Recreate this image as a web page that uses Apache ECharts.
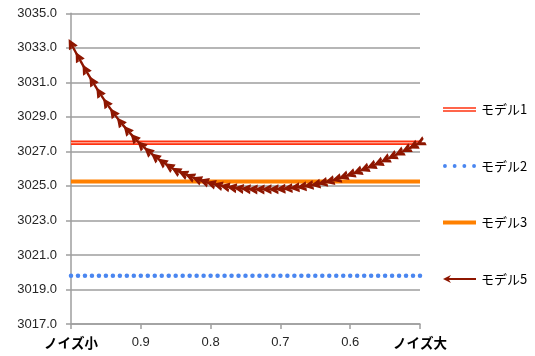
<!DOCTYPE html>
<html><head><meta charset="utf-8">
<script src="https://cdn.jsdelivr.net/npm/echarts@6/dist/echarts.min.js"></script>
<style>html,body{margin:0;padding:0;background:#fff}#c{width:535px;height:356px}</style>
</head><body><div id="c"></div>
<script>
const categories = ['1.00','0.99','0.98','0.97','0.96','0.95','0.94','0.93','0.92','0.91',
  '0.90','0.89','0.88','0.87','0.86','0.85','0.84','0.83','0.82','0.81',
  '0.80','0.79','0.78','0.77','0.76','0.75','0.74','0.73','0.72','0.71',
  '0.70','0.69','0.68','0.67','0.66','0.65','0.64','0.63','0.62','0.61',
  '0.60','0.59','0.58','0.57','0.56','0.55','0.54','0.53','0.52','0.51','0.50'];
const tickCategories = ['1.00','0.90','0.80','0.70','0.60','0.50'];
const tickLabels = ['ノイズ小','0.9','0.8','0.7','0.6','ノイズ大'];
const yTicks = [3017,3019,3021,3023,3025,3027,3029,3031,3033,3035];
const seriesNames = ['モデル1','モデル2','モデル3','モデル5'];
const model1 = new Array(51).fill(3027.5);
const model2 = new Array(51).fill(3019.8);
const model3 = new Array(51).fill(3025.25);
const model5 = [3033.25,3032.50,3031.78,3031.10,3030.45,3029.84,3029.27,3028.74,3028.26,3027.81,
  3027.40,3027.04,3026.71,3026.41,3026.15,3025.91,3025.73,3025.56,3025.40,3025.27,
  3025.15,3025.05,3024.97,3024.91,3024.86,3024.83,3024.81,3024.80,3024.80,3024.80,
  3024.82,3024.85,3024.89,3024.94,3025.01,3025.08,3025.17,3025.27,3025.38,3025.52,
  3025.66,3025.81,3025.97,3026.14,3026.31,3026.50,3026.69,3026.89,3027.09,3027.29,3027.49];

const chart = echarts.init(document.getElementById('c'), null, {renderer:'canvas'});
const FONT = '"Liberation Sans","Noto Sans CJK JP",sans-serif';
const ARROW = 'path://M0,5 L10,0 L10,3.2 L6.5,5 L10,6.8 L10,10 Z';
const GRID = '#9e9e9e';
const option = {
  animation:false,
  backgroundColor:'#ffffff',
  grid:{left:71,right:115,top:13.3,bottom:32},
  xAxis:{type:'category',data:categories,boundaryGap:false,
    axisLine:{lineStyle:{color:GRID,width:1.5}},
    axisTick:{interval:9,length:5,lineStyle:{color:GRID,width:1.5}},
    axisLabel:{interval:9,margin:12,color:'#262626',fontFamily:FONT,fontSize:13,
      formatter:function(v){const k=tickCategories.indexOf(v);const t=k>=0?tickLabels[k]:'';
        return (k===0||k===5)?'{b|'+t+'}':t;},
      rich:{b:{fontFamily:'"Noto Sans CJK JP",sans-serif',fontWeight:'bold',fontSize:13.5,color:'#000'}}},
    splitLine:{show:false}},
  yAxis:{type:'value',min:yTicks[0],max:yTicks[yTicks.length-1],interval:2,
    axisLine:{show:true,lineStyle:{color:GRID,width:1.5}},
    axisTick:{show:true,length:5,lineStyle:{color:GRID,width:1.5}},
    axisLabel:{margin:14,color:'#262626',fontFamily:FONT,fontSize:13,formatter:function(v){return v.toFixed(1);}},
    splitLine:{lineStyle:{color:GRID,width:1.5}}},
  legend:{orient:'vertical',left:438,top:98,itemWidth:33,itemHeight:14,itemGap:43.5,
    textStyle:{fontFamily:'"Noto Sans CJK JP",sans-serif',fontSize:13,color:'#000'},
    data:[
      {name:seriesNames[0],icon:'path://M0,0 L33,0 L33,1.5 L0,1.5 Z M0,3 L33,3 L33,4.5 L0,4.5 Z'},
      {name:seriesNames[1],icon:'path://M0,2 a2,2 0 1,0 4,0 a2,2 0 1,0 -4,0 Z M10,2 a2,2 0 1,0 4,0 a2,2 0 1,0 -4,0 Z M20,2 a2,2 0 1,0 4,0 a2,2 0 1,0 -4,0 Z M30,2 a2,2 0 1,0 4,0 a2,2 0 1,0 -4,0 Z'},
      {name:seriesNames[2],icon:'path://M0,0 L33,0 L33,4 L0,4 Z'},
      {name:seriesNames[3],icon:'path://M0,4 L8,0 L6,3 L33,3 L33,5 L6,5 L8,8 Z'}
    ]},
  series:[
    {name:seriesNames[0],type:'line',data:model1,showSymbol:false,symbol:'none',z:2,
      itemStyle:{color:'#ff3311'},lineStyle:{color:'#ff3311',width:4.5}},
    {name:'_m1inner',type:'line',data:model1,symbol:'none',z:3,silent:true,
      itemStyle:{color:'#ffc8b8'},lineStyle:{color:'#ffc8b8',width:1.2}},
    {name:seriesNames[1],type:'line',data:model2,symbol:'circle',symbolSize:4.5,showAllSymbol:true,z:3,
      itemStyle:{color:'#4a86f0'},lineStyle:{width:0,opacity:0}},
    {name:seriesNames[2],type:'line',data:model3,symbol:'none',z:4,
      itemStyle:{color:'#ff8000'},lineStyle:{color:'#ff8000',width:4}},
    {id:'m5',name:seriesNames[3],type:'line',data:model5,symbol:ARROW,symbolSize:[10,10],showAllSymbol:true,z:5,
      itemStyle:{color:'#8e1600'},lineStyle:{color:'#8e1600',width:2.4}}
  ]
};
chart.setOption(option);
const pts = model5.map((v,i)=>chart.convertToPixel({seriesIndex:4},[i,v]));
const rot = model5.map((v,i)=>{
  const a = i>0?pts[i-1]:pts[0], b = i>0?pts[i]:pts[1];
  const dx = a[0]-b[0], dy = a[1]-b[1];
  const ang = Math.atan2(-dy, dx)*180/Math.PI;
  return ang-180;
});
chart.setOption({series:[{id:'m5',data:model5.map((v,i)=>({value:v,symbolRotate:rot[i]}))}]});
</script></body></html>
